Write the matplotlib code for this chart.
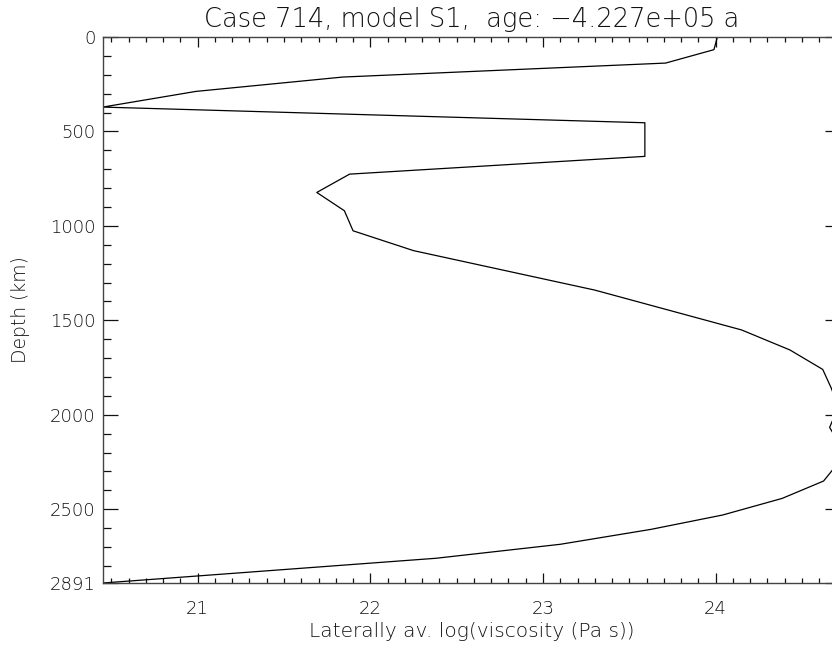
import matplotlib
matplotlib.use("Agg")
import matplotlib.pyplot as plt
from matplotlib.ticker import FixedLocator, MultipleLocator

# Laterally averaged viscosity profile (depth in km, log10 viscosity in Pa s)
depth_km = [0, 67, 138, 212, 288, 371, 454, 632, 726, 823, 920, 1026, 1131,
            1340, 1551, 1657, 1760, 1860, 1960, 2067, 2160, 2255, 2351, 2443,
            2531, 2607, 2686, 2760, 2891]
log_visc = [24.01, 23.99, 23.71, 21.84, 20.99, 20.45, 23.59, 23.59, 21.88,
            21.69, 21.85, 21.90, 22.25, 23.30, 24.15, 24.43, 24.62, 24.67,
            24.71, 24.66, 24.72, 24.71, 24.625, 24.385, 24.04, 23.625, 23.10,
            22.38, 20.45]

x_ticks = [21, 22, 23, 24]
y_ticks = [0, 500, 1000, 1500, 2000, 2500, 2891]
y_tick_labels = ["0", "500", "1000", "1500", "2000", "2500", "2891"]

title = "Case 714, model S1,  age: \u22124.227e+05 a"
x_label = "Laterally av. log(viscosity (Pa s))"
y_label = "Depth (km)"

plt.rcParams["font.family"] = ["DejaVu Sans"]
plt.rcParams["font.weight"] = "light"

ink = "#111111"

fig = plt.figure(figsize=(8.32, 6.46), dpi=100)
ax = fig.add_axes([0.1234, 0.0975, 0.8862, 0.8452])

ax.plot(log_visc, depth_km, color="black", linewidth=0.9)

ax.set_xlim(min(log_visc), max(log_visc))
ax.set_ylim(max(depth_km), 0)

ax.xaxis.set_major_locator(FixedLocator(x_ticks))
ax.xaxis.set_minor_locator(MultipleLocator(0.1))
ax.set_yticks(y_ticks)
ax.set_yticklabels(y_tick_labels)
ax.yaxis.set_minor_locator(MultipleLocator(100))

ax.tick_params(axis="x", which="major", direction="in", length=7, width=0.9,
               top=True, bottom=True, labelsize=13, pad=12, colors=ink)
ax.tick_params(axis="x", which="minor", direction="in", length=3.5, width=0.9,
               top=True, bottom=True, colors=ink)
ax.tick_params(axis="y", which="major", direction="in", length=10.5, width=0.9,
               left=True, right=True, labelsize=13, pad=5, colors=ink)
ax.tick_params(axis="y", which="minor", direction="in", length=5.5, width=0.9,
               left=True, right=True, colors=ink)

for spine in ax.spines.values():
    spine.set_color("#444444")
    spine.set_linewidth(1.0)

ax.set_title(title, fontsize=18.5, pad=7, color=ink, fontweight="light")
ax.set_xlabel(x_label, fontsize=14.5, labelpad=3, color=ink, fontweight="light")
ax.set_ylabel(y_label, fontsize=13.5, labelpad=14, color=ink, fontweight="light")

fig.savefig("out.png", dpi=100)
